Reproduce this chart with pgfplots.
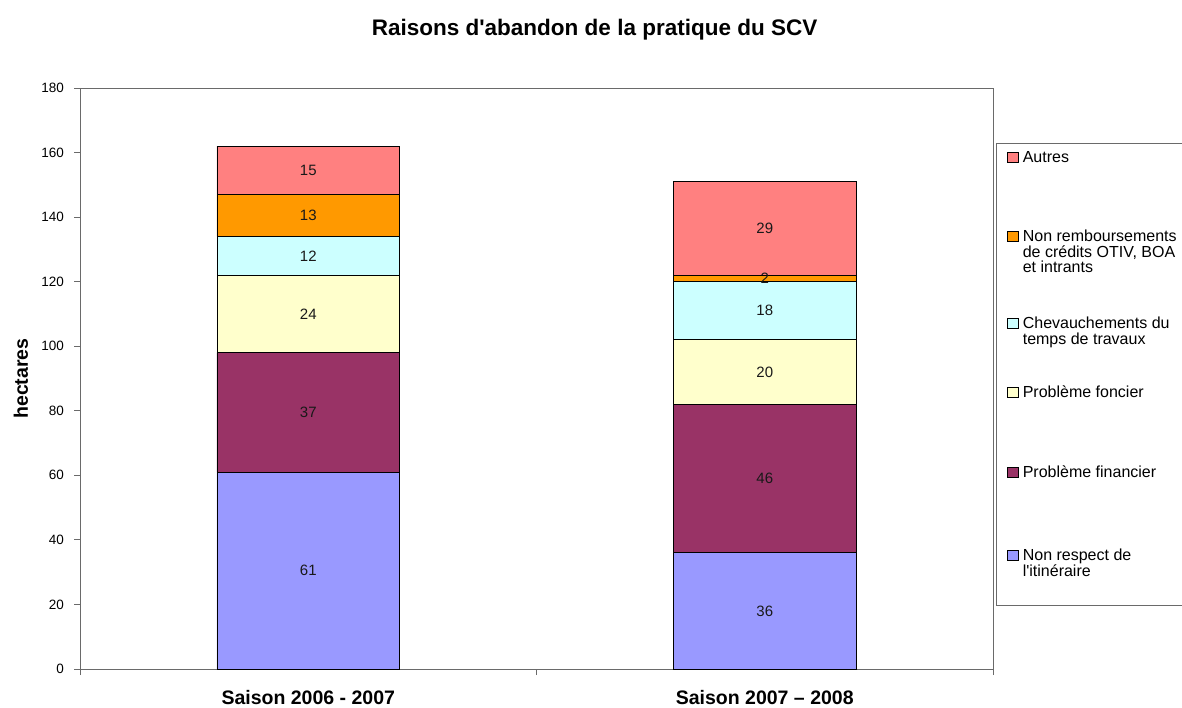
\documentclass[border=0pt]{standalone}
\usepackage{pgfplots}
\pgfplotsset{compat=1.18}
\usepackage{pgfplotstable}
\usepackage{fontspec}
\setmainfont{Liberation Sans}

\definecolor{cRespect}{HTML}{9999FF}
\definecolor{cFinancier}{HTML}{993366}
\definecolor{cFoncier}{HTML}{FFFFCC}
\definecolor{cChevauch}{HTML}{CCFFFF}
\definecolor{cRemb}{HTML}{FF9900}
\definecolor{cAutres}{HTML}{FF8080}
\definecolor{frame}{HTML}{6A6A6A}

\pgfplotsset{sqlegend/.style={legend image code/.code={\draw[##1,draw=black,line width=0.9pt] (0pt,0pt) rectangle (10.5pt,10.5pt);}}}
\newcommand\legtext[2]{\parbox[t][#1][t]{190pt}{\raggedright #2}}

\pgfplotstableread{
x respect financier foncier chevauch remb autres
0 61 37 24 12 13 15
1 36 46 20 18 2 29
}\datatable

\pgfplotstableread{
x y lab
0 30.5 61
0 79.5 37
0 110 24
0 128 12
0 140.5 13
0 154.5 15
1 18 36
1 59 46
1 92 20
1 111 18
1 121 2
1 136.5 29
}\labeltable

\begin{document}
\begin{tikzpicture}
\path[use as bounding box] (0,0) rectangle (1182pt,707pt);
\begin{axis}[
  at={(80pt,38pt)}, anchor=south west,
  scale only axis, width=913pt, height=581pt,
  ybar stacked, bar width=0.4,
  xmin=-0.5, xmax=1.5, ymin=0, ymax=180,
  ytick={0,20,...,180},
  xtick={-0.5,0.5,1.5}, xticklabels={,,},
  extra x ticks={0,1},
  extra x tick labels={Saison 2006 - 2007, Saison 2007 – 2008},
  extra x tick style={major tick length=0pt,
     xticklabel style={font=\fontsize{19.5}{20}\selectfont\bfseries, anchor=base, yshift=-35pt}},
  tick pos=left, tick align=outside, major tick length=6pt,
  tick style={draw=frame, line width=0.8pt},
  axis line style={draw=frame, line width=0.8pt},
  yticklabel style={font=\fontsize{13.5}{14}\selectfont, anchor=east, xshift=-6.5pt},
  /pgf/number format/assume math mode=true,
  title={Raisons d\textquotesingle abandon de la pratique du SCV},
  title style={font=\fontsize{22.5}{24}\selectfont\bfseries, at={(axis description cs:0.5636,1.0912)}, anchor=base, yshift=-6.5pt},
  ylabel={hectares},
  every axis y label/.style={at={(axis description cs:-0.0646,0.5)}, rotate=90, anchor=center, font=\fontsize{19.5}{20}\selectfont\bfseries},
  reverse legend,
  legend style={at={(axis description cs:1.0033,0.9053)}, anchor=north west,
     draw=frame, line width=0.8pt, fill=white,
     inner xsep=11pt, inner ysep=8.5pt,
     column sep=4pt, row sep=0pt,
     cells={anchor=base west},
     nodes={inner sep=0pt, text depth=},
     font=\fontsize{16}{15.5}\selectfont},
  every axis plot/.append style={draw=black, line width=0.9pt},
]
\addplot[fill=cRespect, sqlegend] table[x=x, y=respect] {\datatable};
\addlegendentry{\legtext{48pt}{Non respect de\\l\textquotesingle itinéraire}}
\addplot[fill=cFinancier, sqlegend] table[x=x, y=financier] {\datatable};
\addlegendentry{\legtext{83pt}{Problème financier}}
\addplot[fill=cFoncier, sqlegend] table[x=x, y=foncier] {\datatable};
\addlegendentry{\legtext{80pt}{Problème foncier}}
\addplot[fill=cChevauch, sqlegend] table[x=x, y=chevauch] {\datatable};
\addlegendentry{\legtext{69pt}{Chevauchements du\\temps de travaux}}
\addplot[fill=cRemb, sqlegend] table[x=x, y=remb] {\datatable};
\addlegendentry{\legtext{87pt}{Non remboursements\\de crédits OTIV, BOA\\et intrants}}
\addplot[fill=cAutres, sqlegend] table[x=x, y=autres] {\datatable};
\addlegendentry{\legtext{78pt}{Autres}}
\end{axis}
\begin{axis}[
  at={(80pt,38pt)}, anchor=south west,
  scale only axis, width=913pt, height=581pt,
  xmin=-0.5, xmax=1.5, ymin=0, ymax=180,
  hide axis,
]
\addplot[only marks, mark=none, nodes near coords, point meta=explicit symbolic,
  every node near coord/.append style={anchor=center, font=\fontsize{15}{15}\selectfont, text=black!90}]
  table[x=x, y=y, meta=lab] {\labeltable};
\end{axis}
\end{tikzpicture}
\end{document}
